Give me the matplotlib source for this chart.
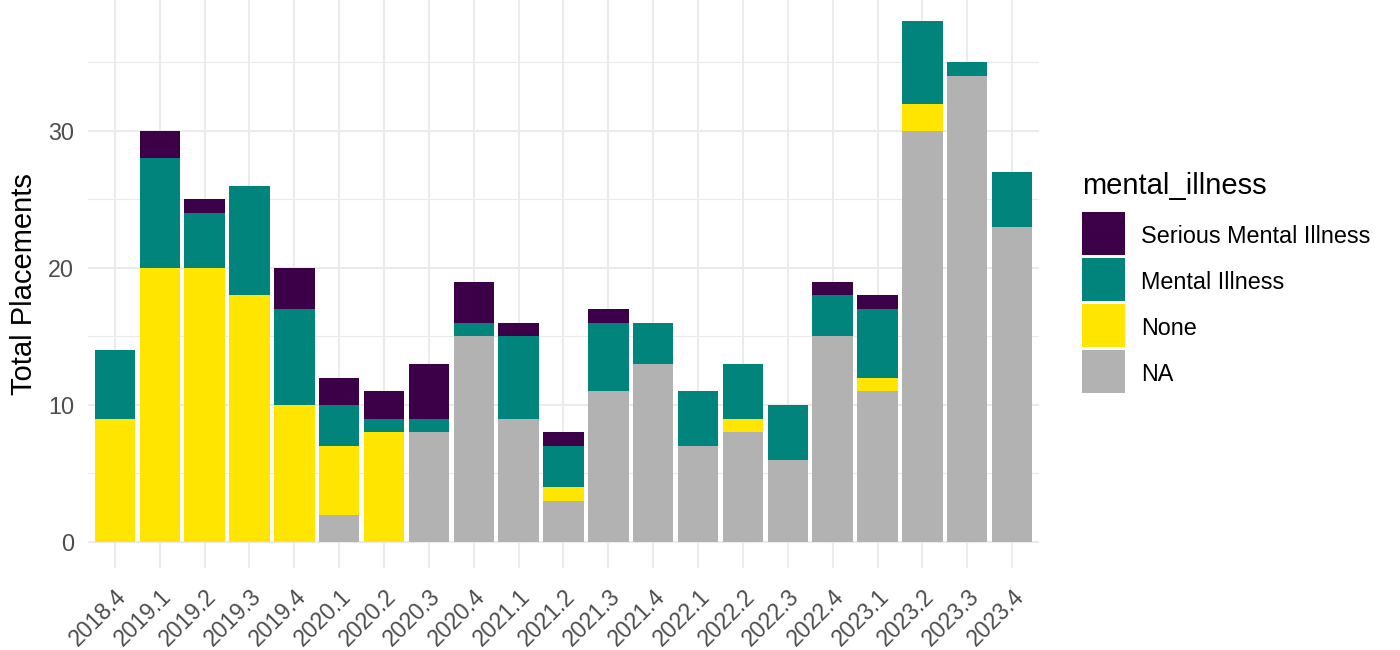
import numpy as np
import matplotlib.pyplot as plt
from matplotlib.patches import Rectangle
from matplotlib.ticker import MultipleLocator

quarters = ["2018.4", "2019.1", "2019.2", "2019.3", "2019.4", "2020.1", "2020.2",
            "2020.3", "2020.4", "2021.1", "2021.2", "2021.3", "2021.4", "2022.1",
            "2022.2", "2022.3", "2022.4", "2023.1", "2023.2", "2023.3", "2023.4"]

# stacked from the bottom: NA, None, Mental Illness, Serious Mental Illness
na_vals = [0, 0, 0, 0, 0, 2, 0, 8, 15, 9, 3, 11, 13, 7, 8, 6, 15, 11, 30, 34, 23]
none_vals = [9, 20, 20, 18, 10, 5, 8, 0, 0, 0, 1, 0, 0, 0, 1, 0, 0, 1, 2, 0, 0]
mi_vals = [5, 8, 4, 8, 7, 3, 1, 1, 1, 6, 3, 5, 3, 4, 4, 4, 3, 5, 6, 1, 4]
smi_vals = [0, 2, 1, 0, 3, 2, 2, 4, 3, 1, 1, 1, 0, 0, 0, 0, 1, 1, 0, 0, 0]

series = [
    ("NA", na_vals, "#b2b2b2"),
    ("None", none_vals, "#ffe500"),
    ("Mental Illness", mi_vals, "#00847b"),
    ("Serious Mental Illness", smi_vals, "#3b0048"),
]

plt.rcParams['font.family'] = ['Liberation Sans', 'DejaVu Sans']

W, H = 1400, 650
fig = plt.figure(figsize=(W / 100, H / 100), dpi=100)
ax = fig.add_axes([88 / W, 1 - 568 / H, (1039 - 88) / W, 568 / H])

x = np.arange(1, len(quarters) + 1)
bottom = np.zeros(len(quarters))
for name, vals, col in series:
    vals = np.array(vals, dtype=float)
    ax.bar(x, vals, width=0.9, bottom=bottom, color=col, linewidth=0, zorder=3)
    bottom += vals

ax.set_xlim(0.4, len(quarters) + 0.6)
ax.set_ylim(-1.9, 39.56)
ax.set_xticks(x)
ax.set_xticklabels(quarters, rotation=45, ha='right', va='top', rotation_mode='anchor',
                   fontsize=16.5, color='#4d4d4d')
ax.yaxis.set_major_locator(MultipleLocator(10))
ax.yaxis.set_minor_locator(MultipleLocator(5))
ax.tick_params(axis='y', labelsize=16.8, colors='#4d4d4d', length=0, which='both', pad=10)
ax.tick_params(axis='x', length=0, pad=12)

ax.set_facecolor('white')
ax.grid(True, which='major', color='#ebebeb', linewidth=1.5, zorder=0)
ax.grid(True, which='minor', axis='y', color='#ebebeb', linewidth=0.8, zorder=0)
for s in ax.spines.values():
    s.set_visible(False)

ax.set_ylabel("Total Placements", fontsize=21, color='black', labelpad=7)

# legend drawn by hand so the key sizes match
fig.text(1082 / W, 1 - 194 / H, "mental_illness", fontsize=21, ha='left', va='baseline')
key_top = 212
for i, (name, _, col) in enumerate(reversed(series)):
    top = key_top + i * 46
    fig.add_artist(Rectangle((1082 / W, 1 - (top + 43) / H), 43 / W, 43 / H,
                             transform=fig.transFigure, facecolor=col, edgecolor='none'))
    fig.text(1141 / W, 1 - (top + 31) / H, name, fontsize=16.8, ha='left', va='baseline')

fig.savefig("out.png", dpi=100)
